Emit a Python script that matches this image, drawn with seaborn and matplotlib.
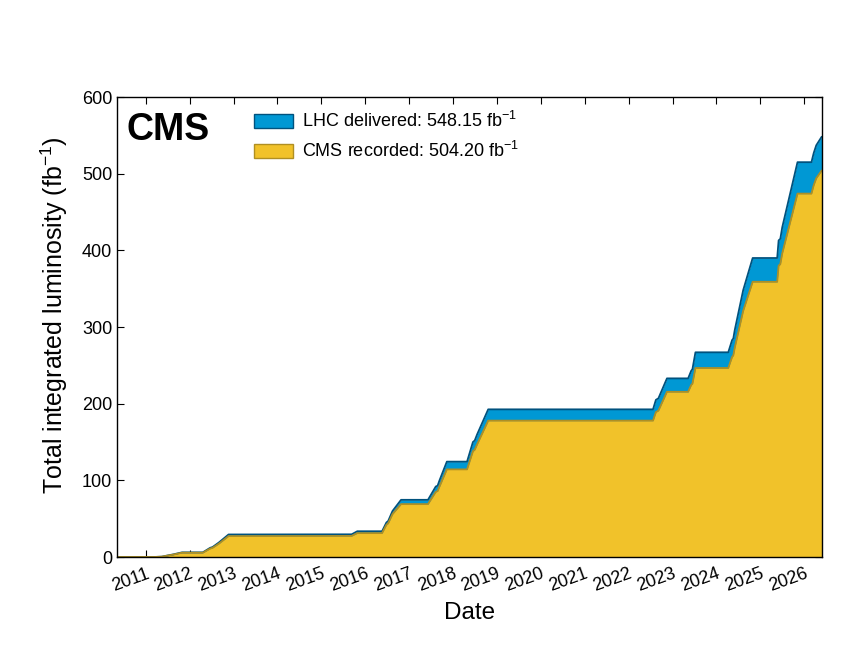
import pandas as pd
import numpy as np
import matplotlib
matplotlib.use('Agg')
import matplotlib.pyplot as plt
import matplotlib.dates as mdates
import matplotlib.patches as mpatches
import seaborn as sns

# Cumulative integrated luminosity (fb^-1)
dates = ['2010-05-07', '2010-11-01', '2011-03-13', '2011-05-15', '2011-07-01',
         '2011-08-20', '2011-10-30', '2012-04-20', '2012-06-20', '2012-07-10',
         '2012-09-01', '2012-11-20', '2015-09-10', '2015-10-27', '2016-05-20',
         '2016-06-25', '2016-07-10', '2016-08-15', '2016-10-25', '2017-06-06',
         '2017-08-10', '2017-08-25', '2017-09-10', '2017-11-10', '2018-04-27',
         '2018-06-15', '2018-06-30', '2018-07-20', '2018-10-20', '2022-07-22',
         '2022-08-15', '2022-09-05', '2022-11-15', '2023-05-10', '2023-06-05',
         '2023-06-15', '2023-07-10', '2024-04-08', '2024-05-10', '2024-05-20',
         '2024-06-01', '2024-08-10', '2024-10-28', '2025-05-20', '2025-06-01',
         '2025-06-15', '2025-07-01', '2025-11-05', '2026-03-01', '2026-03-20',
         '2026-04-10', '2026-05-25']
delivered = [0.0, 0.04, 0.05, 0.5, 2.0,
             3.5, 6.1, 6.1, 12.0, 13.0,
             19.0, 29.4, 29.6, 33.6, 33.6,
             45.0, 47.0, 60.0, 74.6, 74.6,
             92.0, 93.0, 100.0, 124.4, 124.4,
             150.0, 152.0, 160.0, 192.6, 192.6,
             205.0, 207.0, 233.0, 233.0, 243.0,
             245.0, 267.0, 267.0, 283.0, 285.0,
             296.0, 348.0, 390.0, 390.0, 413.0,
             415.0, 430.0, 515.0, 515.0, 527.0,
             537.0, 548.15]
recorded = [0.0, 0.04, 0.05, 0.45, 1.8,
            3.2, 5.6, 5.6, 11.0, 12.0,
            17.5, 27.3, 27.5, 31.2, 31.2,
            42.0, 44.0, 56.0, 69.0, 69.0,
            85.0, 86.0, 92.0, 114.3, 114.3,
            138.0, 140.0, 147.0, 177.9, 177.9,
            189.0, 191.0, 215.5, 215.5, 224.5,
            226.0, 246.5, 246.5, 261.0, 263.0,
            273.0, 321.0, 359.0, 359.0, 380.0,
            382.0, 396.0, 474.0, 474.0, 485.0,
            494.0, 504.2]

df = pd.DataFrame({'date': pd.to_datetime(dates),
                   'delivered': delivered,
                   'recorded': recorded})

sns.set_style('ticks')
plt.rcParams['font.family'] = ['Liberation Sans', 'DejaVu Sans']
plt.rcParams['mathtext.fontset'] = 'custom'
plt.rcParams['mathtext.rm'] = 'Liberation Sans'
plt.rcParams['mathtext.it'] = 'Liberation Sans:italic'
for k in ['text.color', 'axes.labelcolor', 'xtick.color', 'ytick.color',
          'axes.edgecolor']:
    plt.rcParams[k] = 'black'

fig = plt.figure(figsize=(8.64, 6.48), dpi=100)
ax = fig.add_axes([0.1354, 0.1404, 0.8156, 0.7099])

c_del, e_del = '#0098D4', '#00527E'
c_rec, e_rec = '#F1C22A', '#B08F22'

ax.fill_between(df['date'], 0, df['delivered'], color=c_del, lw=0)
sns.lineplot(data=df, x='date', y='delivered', color=e_del, lw=1.3, ax=ax)
ax.fill_between(df['date'], 0, df['recorded'], color=c_rec, lw=0)
sns.lineplot(data=df, x='date', y='recorded', color=e_rec, lw=1.3, ax=ax)

ax.set_xlim(df['date'].iloc[0], df['date'].iloc[-1])
ax.set_ylim(0, 600)
ax.set_yticks(np.arange(0, 601, 100))
ax.xaxis.set_major_locator(mdates.YearLocator())
ax.xaxis.set_major_formatter(mdates.DateFormatter('%Y'))
ax.tick_params(direction='in', top=True, right=True, length=5, width=0.8,
               labelsize=13)
ax.tick_params(axis='x', pad=6)
for lab in ax.get_xticklabels():
    lab.set_rotation(20)
    lab.set_ha('right')
    lab.set_rotation_mode('anchor')

ax.set_xlabel('Date', fontsize=17.5, labelpad=5)
ax.set_ylabel('Total integrated luminosity (fb$^{-1}$)', fontsize=18)
ax.yaxis.set_label_coords(-0.066, 0.525)
for s in ax.spines.values():
    s.set_linewidth(1.0)

ax.text(0.014, 0.967, 'CMS', transform=ax.transAxes, fontsize=27,
        fontweight='bold', va='top', ha='left')

handles = [mpatches.Patch(facecolor=c_del, edgecolor=e_del, lw=1),
           mpatches.Patch(facecolor=c_rec, edgecolor=e_rec, lw=1)]
ax.legend(handles, ['LHC delivered: 548.15 fb$^{-1}$',
                    'CMS recorded: 504.20 fb$^{-1}$'],
          loc='upper left', bbox_to_anchor=(0.171, 1.005), frameon=False,
          fontsize=13, handlelength=2.2, handleheight=0.85,
          handletextpad=0.45, labelspacing=0.55)

fig.savefig('out.png', dpi=100)
